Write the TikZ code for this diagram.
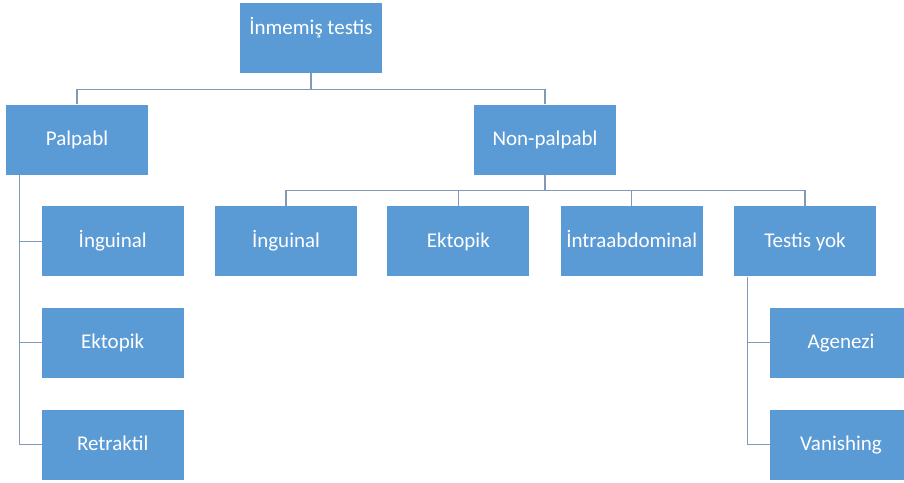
\documentclass[tikz,border=0pt]{standalone}
\usepackage{fontspec}
\setmainfont{Carlito}
\usetikzlibrary{calc}
\definecolor{boxblue}{HTML}{5B9BD5}
\definecolor{linkc}{HTML}{8198B6}
\begin{document}
\begin{tikzpicture}[x=1pt,y=-1pt,
  box/.style={fill=boxblue,draw=none,minimum width=142pt,minimum height=70pt,inner sep=0pt,
    text=white,font=\fontsize{21}{24}\selectfont,text height=15pt,text depth=3pt},
  link/.style={draw=linkc,line width=1.2pt}]
\useasboundingbox (0,0) rectangle (904,482);
\node[box,text depth=22.4pt] (top) at (311,38) {İnmemiş testis};
\node[box] (palp) at (77,139.5) {Palpabl};
\node[box] (nonp) at (545,139.5) {Non-palpabl};
\node[box] (ling) at (112.7,241.3) {İnguinal};
\node[box] (lekt) at (112.7,342.7) {Ektopik};
\node[box] (lret) at (112.7,444.5) {Retraktil};
\node[box] (ning) at (286,241.3) {İnguinal};
\node[box] (nekt) at (458.3,241.3) {Ektopik};
\node[box] (nint) at (631.7,241.3) {İntraabdominal};
\node[box] (ntes) at (805,241.3) {Testis yok};
\node[box] (tage) at (841,342.7) {Agenezi};
\node[box] (tvan) at (841,444.5) {Vanishing};
\coordinate (pl) at ($(palp.south west)+(14,0)$);
\coordinate (tl) at ($(ntes.south west)+(13.7,0)$);
\draw[link] (top.south) -- ++(0,16) -| (palp.north);
\draw[link] (top.south) -- ++(0,16) -| (nonp.north);
\draw[link] (nonp.south) -- ++(0,15.7) -| (ning.north);
\draw[link] (nonp.south) -- ++(0,15.7) -| (nekt.north);
\draw[link] (nonp.south) -- ++(0,15.7) -| (nint.north);
\draw[link] (nonp.south) -- ++(0,15.7) -| (ntes.north);
\draw[link] (pl) |- (ling.west);
\draw[link] (pl) |- (lekt.west);
\draw[link] (pl) |- (lret.west);
\draw[link] (tl) |- (tage.west);
\draw[link] (tl) |- (tvan.west);
\end{tikzpicture}
\end{document}
